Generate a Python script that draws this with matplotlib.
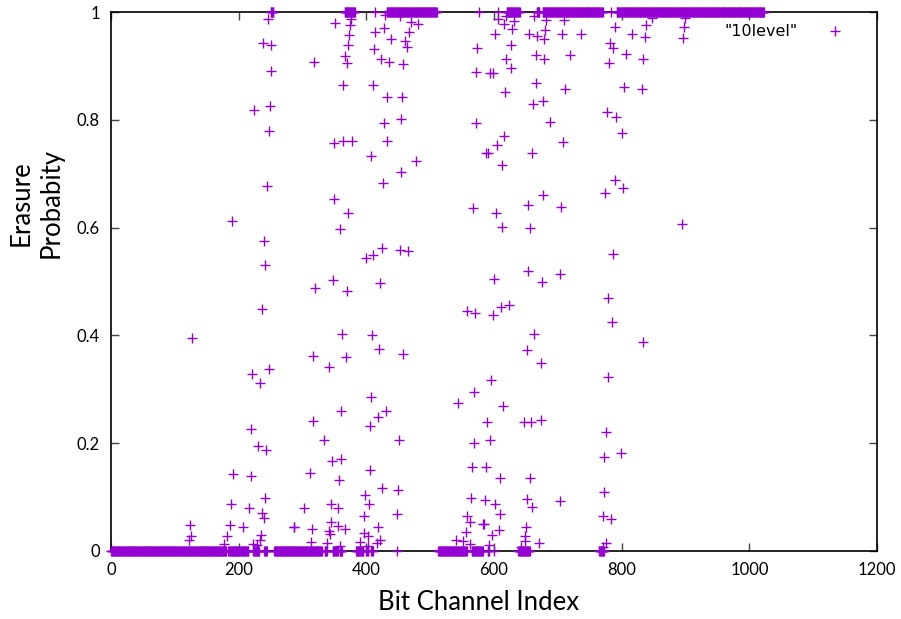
import matplotlib.pyplot as plt

# runs of bit channel indices whose erasure probability is 0 or 1
zero_runs = [(0, 180), (184, 215), (223, 232), (240, 244), (256, 330), (335, 338),
             (347, 355), (358, 362), (384, 395), (400, 403), (408, 410), (448, 448),
             (513, 557), (565, 582), (590, 592), (600, 600), (638, 656), (765, 772)]
one_runs = [(250, 254), (366, 382), (413, 413), (432, 510), (576, 576), (606, 606),
            (620, 640), (667, 671), (676, 770), (784, 784), (792, 1023)]

# channels in between (index, probability)
mid_idx = [246, 238, 251, 250, 249, 224, 247, 245, 190, 239, 242, 236, 127, 221, 248, 234,
           220, 231, 243, 191, 219, 241, 188, 216, 237, 240, 124, 186, 207, 287, 126, 182,
           235, 122, 177, 222, 228, 233,
           351, 376, 374, 373, 372, 414, 427, 429, 439, 460, 464, 467, 470, 481, 453, 412,
           366, 318, 370, 423, 435, 458, 573, 572, 593,
           364, 410, 433, 456, 428, 454, 571, 349, 363, 377, 432, 588, 408, 478, 455, 426, 350,
           371, 359, 567, 425, 411, 400, 452, 465, 347, 319, 369, 422, 558, 570, 362, 409, 420,
           457, 317, 368, 342,
           407, 361, 431, 418, 316, 406, 334, 451, 346, 360, 312, 405, 357, 424, 449, 398, 303,
           345, 356, 404, 397, 448, 286, 315, 344, 355, 367, 341, 419, 396, 403, 421, 390, 343,
           313, 339, 358, 402, 417,
           569, 544, 568, 566, 564, 558, 562, 583, 556, 541, 551, 563,
           606, 618, 631, 615, 662, 682, 709, 628, 602, 655, 667, 680, 678, 707, 736, 626, 665,
           679, 619, 719, 627, 598, 666, 711, 617, 661, 676, 688, 616, 605, 590, 660, 708, 613,
           677, 789, 838, 816, 837, 781, 787, 807, 834, 780, 803, 832, 777, 791, 801, 790, 802,
           774, 847,
           654, 705, 603, 612, 657, 786, 653, 704, 600, 675, 779, 785, 611, 623, 599, 663, 833,
           651, 673, 778, 596,
           614, 589, 647, 658, 674, 776, 593, 773, 799, 587, 610, 656, 772, 586, 601, 652, 659,
           703, 609, 770, 784, 584, 608, 650, 597, 649, 648, 671, 775, 592, 771, 643,
           899, 897, 896, 895]
mid_val = [0.987, 0.942, 0.938, 0.891, 0.826, 0.819, 0.779, 0.677, 0.613, 0.576, 0.531, 0.449,
           0.395, 0.328, 0.338, 0.312, 0.226, 0.195, 0.187, 0.142, 0.139, 0.098, 0.088, 0.079,
           0.070, 0.061, 0.048, 0.048, 0.045, 0.045, 0.028, 0.028, 0.029, 0.020, 0.013, 0.013,
           0.011, 0.020,
           0.980, 0.987, 0.976, 0.957, 0.938, 0.963, 0.970, 0.994, 0.950, 0.946, 0.936, 0.963,
           0.981, 0.978, 0.993, 0.932, 0.918, 0.907, 0.905, 0.913, 0.908, 0.903, 0.933, 0.889,
           0.887,
           0.865, 0.865, 0.843, 0.843, 0.794, 0.802, 0.794, 0.757, 0.761, 0.761, 0.761, 0.738,
           0.732, 0.724, 0.704, 0.683, 0.653,
           0.628, 0.598, 0.636, 0.563, 0.549, 0.544, 0.558, 0.557, 0.502, 0.487, 0.482, 0.497,
           0.446, 0.442, 0.403, 0.400, 0.375, 0.366, 0.362, 0.359, 0.341,
           0.285, 0.260, 0.260, 0.249, 0.241, 0.231, 0.206, 0.206, 0.167, 0.171, 0.145, 0.150,
           0.132, 0.116, 0.113, 0.104, 0.080, 0.088, 0.080, 0.087, 0.064, 0.068, 0.045, 0.041,
           0.053, 0.047, 0.041, 0.037, 0.045, 0.033, 0.027, 0.020, 0.017, 0.032, 0.016, 0.014,
           0.010, 0.010, 0.014,
           0.295, 0.275, 0.200, 0.156, 0.098, 0.065, 0.054, 0.050, 0.036, 0.020, 0.019, 0.013,
           0.987, 0.993, 0.984, 0.978, 0.993, 0.986, 0.986, 0.968, 0.959, 0.960, 0.955, 0.967,
           0.949, 0.960, 0.959, 0.939, 0.921, 0.913, 0.913, 0.921, 0.896, 0.886, 0.869, 0.857,
           0.852, 0.829, 0.835, 0.795, 0.770, 0.753, 0.739, 0.739, 0.759, 0.716, 0.660, 0.973,
           0.975, 0.959, 0.953, 0.943, 0.933, 0.923, 0.913, 0.905, 0.861, 0.858, 0.814, 0.806,
           0.775, 0.688, 0.674, 0.664, 0.988,
           0.642, 0.639, 0.627, 0.601, 0.599, 0.551, 0.519, 0.514, 0.504, 0.499, 0.470, 0.424,
           0.452, 0.456, 0.437, 0.402, 0.387, 0.372, 0.349, 0.322, 0.317,
           0.269, 0.239, 0.239, 0.239, 0.243, 0.221, 0.206, 0.174, 0.182, 0.156, 0.135, 0.135,
           0.110, 0.095, 0.087, 0.096, 0.082, 0.093, 0.069, 0.064, 0.059, 0.050, 0.038, 0.045,
           0.030, 0.027, 0.019, 0.015, 0.014, 0.011, 0.007, 0.008,
           0.988, 0.973, 0.952, 0.606]

x_ticks = [0, 200, 400, 600, 800, 1000, 1200]
y_ticks = [0, 0.2, 0.4, 0.6, 0.8, 1.0]
y_labels = ["0", "0.2", "0.4", "0.6", "0.8", "1"]

# expand the runs into points
xs, ys = [], []
for a, b in zero_runs:
    for i in range(a, b + 1):
        xs.append(i)
        ys.append(0.0)
for a, b in one_runs:
    for i in range(a, b + 1):
        xs.append(i)
        ys.append(1.0)
xs += mid_idx
ys += mid_val

fig = plt.figure(figsize=(9.01, 6.19), dpi=100)
ax = fig.add_axes([0.1232, 0.1099, 0.8502, 0.8707])

ax.plot(xs, ys, linestyle="none", marker="+", markersize=7, markeredgewidth=1.0,
        color="#9400D3", label='"10level"', clip_on=False, zorder=3)

ax.set_xlim(0, 1200)
ax.set_ylim(0, 1)
ax.set_xticks(x_ticks)
ax.set_yticks(y_ticks)
ax.set_yticklabels(y_labels)
ax.tick_params(direction="in", length=6, width=1, color="#444444", top=True, right=True,
               labelsize=12, pad=8)
for lab in ax.get_xticklabels() + ax.get_yticklabels():
    lab.set_fontfamily("Lato")
for s in ax.spines.values():
    s.set_linewidth(1.2)

ax.set_xlabel("Bit Channel Index", fontsize=18.5, fontfamily="Lato")
ax.xaxis.set_label_coords(0.480, -0.072)
fig.text(0.04, 1 - 203 / 619, "Erasure\nProbabity", rotation=90, ha="center", va="center",
         fontsize=18.5, fontfamily="Lato", linespacing=1.25)

ax.legend(loc="upper right", bbox_to_anchor=(0.98, 1.004), frameon=False, markerfirst=False,
          handlelength=1.5, handletextpad=1.6, prop={"family": "DejaVu Sans", "size": 11.5})

plt.savefig("out.png", dpi=100)
